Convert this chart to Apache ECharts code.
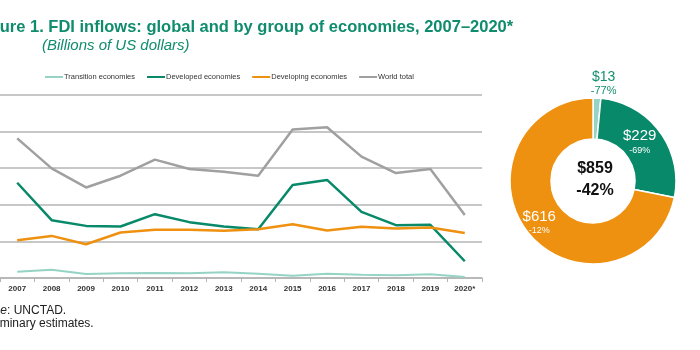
<!DOCTYPE html>
<html>
<head>
<meta charset="utf-8">
<script src="https://cdn.jsdelivr.net/npm/echarts@6/dist/echarts.min.js"></script>
<style>
html, body { margin: 0; padding: 0; background: #fff; }
#main { width: 700px; height: 350px; }
</style>
</head>
<body>
<div id="main"></div>
<script>
var years = ['2007','2008','2009','2010','2011','2012','2013','2014','2015','2016','2017','2018','2019','2020*'];
var transition = [86, 114, 55, 64, 68, 64, 78, 59, 30, 59, 45, 37, 50, 13];
var developed = [1301, 790, 712, 703, 872, 763, 703, 667, 1270, 1340, 904, 722, 726, 229];
var developing = [516, 575, 461, 621, 658, 658, 644, 667, 735, 648, 699, 676, 690, 616];
var worldTotal = [1908, 1497, 1237, 1397, 1617, 1489, 1452, 1397, 2028, 2060, 1658, 1434, 1489, 859];

var shareNames = ['Transition economies', 'Developed economies', 'Developing economies'];
var share2020 = [13, 229, 616];
var change2020 = [-77, -69, -12];
var total2020 = 859;
var totalChange = -42;

var cTransition = '#95d3c4', cDeveloped = '#07896a', cDeveloping = '#ef9110', cWorld = '#a0a0a0';
var sans = '"Liberation Sans", Arial, sans-serif';

function lineSeries(name, data, color, width) {
    return {
        name: name, type: 'line', data: data,
        symbol: 'none', smooth: false,
        lineStyle: { color: color, width: width },
        itemStyle: { color: color }
    };
}

var option = {
    animation: false,
    backgroundColor: '#fff',
    legend: {
        left: 45, top: 73, padding: 0,
        icon: 'rect', itemWidth: 18, itemHeight: 2, itemGap: 12,
        textStyle: { fontFamily: sans, fontSize: 7.5, color: '#333', padding: [0, 0, 0, -4] },
        data: ['Transition economies', 'Developed economies', 'Developing economies', 'World total']
    },
    grid: { left: -1, top: 95, width: 483, bottom: 72 },
    xAxis: {
        type: 'category', data: years, boundaryGap: true,
        axisLine: { lineStyle: { color: '#b4b4b4', width: 1.5 } },
        axisTick: { show: true, length: 4, lineStyle: { color: '#b4b4b4' } },
        axisLabel: { interval: 0, color: '#333', fontFamily: sans, fontSize: 8, fontWeight: 'bold', margin: 7 }
    },
    yAxis: {
        type: 'value', min: 0, max: 2500, interval: 500,
        axisLabel: { show: false }, axisLine: { show: false }, axisTick: { show: false },
        splitLine: { lineStyle: { color: '#b4b4b4', width: 1.5 } }
    },
    series: [
        lineSeries('Transition economies', transition, cTransition, 2),
        lineSeries('Developed economies', developed, cDeveloped, 2.5),
        lineSeries('Developing economies', developing, cDeveloping, 2.5),
        lineSeries('World total', worldTotal, cWorld, 2.5),
        {
            type: 'pie', name: 'FDI 2020',
            center: [593, 181], radius: [42, 83],
            startAngle: 90, clockwise: true,
            itemStyle: { borderColor: '#fff', borderWidth: 1.5 },
            labelLine: { show: false, length: 15, length2: 0 },
            labelLayout: function (p) {
                if (p.dataIndex === 0) return { align: 'center', dx: 1 };
                if (p.dataIndex === 1) return { dx: -6 };
                if (p.dataIndex === 2) return { dx: -3 };
                return {};
            },
            data: shareNames.map(function (n, i) {
                var inside = i > 0;
                var col = inside ? '#fff' : '#13906f';
                return {
                    name: n, value: share2020[i],
                    itemStyle: { color: [cTransition, cDeveloped, cDeveloping][i] },
                    label: {
                        show: true,
                        position: inside ? 'inside' : 'outside',
                        formatter: '{a|$' + share2020[i] + '}\n{b|' + change2020[i] + '%}',
                        align: 'center',
                        rich: {
                            a: { fontFamily: sans, fontSize: i === 0 ? 14 : 15, color: col, lineHeight: 16, align: 'center' },
                            b: { fontFamily: sans, fontSize: i === 0 ? 11 : 9, color: col, lineHeight: 12, align: 'center' }
                        }
                    }
                };
            })
        }
    ],
    graphic: [
        {
            type: 'text', left: -25, top: 19,
            style: { text: 'Figure 1. FDI inflows: global and by group of economies, 2007\u20132020*',
                     fill: '#0f8c6e', font: 'bold 16.5px ' + sans }
        },
        {
            type: 'text', left: 42, top: 38,
            style: { text: '(Billions of US dollars)',
                     fill: '#0f8c6e', font: 'italic 15px ' + sans }
        },
        {
            type: 'text', left: -31, top: 305,
            style: {
                text: '{i|Source}{n|: UNCTAD.}',
                rich: {
                    i: { fontStyle: 'italic', fontSize: 12, fontFamily: sans, fill: '#222' },
                    n: { fontSize: 12, fontFamily: sans, fill: '#222' }
                }
            }
        },
        {
            type: 'text', left: -29, top: 318,
            style: { text: '*Preliminary estimates.', fill: '#222', font: '12px ' + sans }
        },
        {
            type: 'text', x: 595, y: 180,
            style: {
                text: '$' + total2020 + '\n' + totalChange + '%',
                align: 'center', verticalAlign: 'middle',
                fill: '#111', font: 'bold 16px ' + sans, lineHeight: 22
            }
        }
    ]
};

var myChart = echarts.init(document.getElementById('main'));
myChart.setOption(option);
</script>
</body>
</html>
